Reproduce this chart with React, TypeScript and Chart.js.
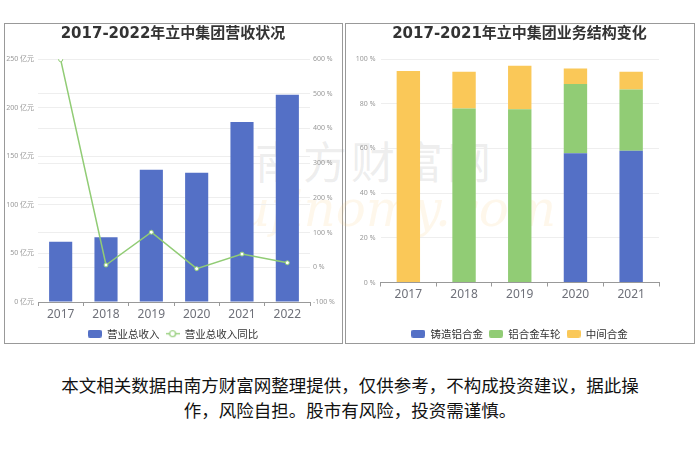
import React, { useEffect, useRef } from "react";
import { Chart, registerables } from "chart.js";

Chart.register(...registerables);

// ---------- data ----------
const revenueYears = ["2017", "2018", "2019", "2020", "2021", "2022"];
const totalRevenue = [62, 66.6, 136, 133, 185.2, 213.2]; // 亿元
const revenueGrowth = [598, 6.6, 101, -4, 38, 13]; // %

const structureYears = ["2017", "2018", "2019", "2020", "2021"];
const castingAlloy = [0, 0, 0, 57.8, 59.0]; // %
const alloyWheels = [0, 77.9, 77.5, 31.0, 27.4]; // %
const masterAlloy = [94.6, 16.4, 19.5, 7.0, 7.9]; // %

const leftTitle = "2017-2022年立中集团营收状况";
const rightTitle = "2017-2021年立中集团业务结构变化";
const revenueLabel = "营业总收入";
const growthLabel = "营业总收入同比";
const structureLabels = ["铸造铝合金", "铝合金车轮", "中间合金"];
const disclaimerLine1 = "本文相关数据由南方财富网整理提供，仅供参考，不构成投资建议，据此操";
const disclaimerLine2 = "作，风险自担。股市有风险，投资需谨慎。";

const BLUE = "#5470c6";
const GREEN = "#91cc75";
const YELLOW = "#fac858";

const TICK_FONT = "'Noto Sans', 'Noto Sans CJK SC', sans-serif";
const TITLE_FONT = "'DejaVu Sans', 'Noto Sans CJK SC', sans-serif";
const CJK_FONT = "'Noto Sans CJK SC', 'Noto Sans', sans-serif";

function boxIcon(color: string) {
  const c = document.createElement("canvas");
  c.width = 14;
  c.height = 8;
  const ctx = c.getContext("2d")!;
  ctx.fillStyle = color;
  ctx.beginPath();
  (ctx as any).roundRect(0, 0, 14, 8, 2);
  ctx.fill();
  return c;
}

function lineIcon(color: string) {
  const c = document.createElement("canvas");
  c.width = 14;
  c.height = 9;
  const ctx = c.getContext("2d")!;
  ctx.strokeStyle = color;
  ctx.lineWidth = 1.3;
  ctx.beginPath();
  ctx.moveTo(0, 4.5);
  ctx.lineTo(14, 4.5);
  ctx.stroke();
  ctx.beginPath();
  ctx.arc(7, 4.5, 3, 0, Math.PI * 2);
  ctx.fillStyle = "#fff";
  ctx.fill();
  ctx.lineWidth = 1.2;
  ctx.stroke();
  return c;
}

function legendOptions(icons: HTMLCanvasElement[]) {
  return {
    display: true,
    position: "bottom" as const,
    labels: {
      usePointStyle: true,
      pointStyleWidth: 14,
      padding: 6,
      color: "#333",
      font: { size: 10.5, family: CJK_FONT },
      sort: (a: any, b: any) => a.datasetIndex - b.datasetIndex,
      generateLabels: (chart: any) => {
        const items = (Chart.defaults.plugins.legend.labels as any).generateLabels(chart);
        items.forEach((it: any) => {
          it.pointStyle = icons[it.datasetIndex];
        });
        return items;
      },
    },
  };
}

function titleOptions(text: string) {
  return {
    display: true,
    text,
    color: "#333",
    font: { size: 15, weight: "bold" as const, family: TITLE_FONT },
    padding: { top: 1, bottom: 16 },
  };
}

function xScale(height: number, stacked: boolean) {
  return {
    stacked,
    grid: {
      display: true,
      drawOnChartArea: false,
      drawTicks: true,
      tickLength: 4,
      color: "#999",
      offset: true,
    },
    border: { display: true, color: "#999" },
    ticks: { color: "#6e7079", font: { size: 12, family: TICK_FONT }, padding: 1 },
    afterFit: (s: any) => {
      s.height = height;
    },
  };
}

function RevenueChart() {
  const ref = useRef<HTMLCanvasElement>(null);
  useEffect(() => {
    const chart = new Chart(ref.current!, {
      type: "bar",
      data: {
        labels: revenueYears,
        datasets: [
          {
            type: "bar",
            label: revenueLabel,
            data: totalRevenue,
            backgroundColor: BLUE,
            yAxisID: "y",
            barPercentage: 0.51,
            categoryPercentage: 1,
            order: 2,
          } as any,
          {
            type: "line",
            label: growthLabel,
            data: revenueGrowth,
            borderColor: GREEN,
            borderWidth: 1.5,
            pointRadius: 2,
            pointBackgroundColor: "#fff",
            pointBorderColor: GREEN,
            pointBorderWidth: 1,
            yAxisID: "y1",
            tension: 0,
            order: 1,
          } as any,
        ],
      },
      options: {
        responsive: false,
        animation: false,
        devicePixelRatio: 1,
        layout: { padding: 0 },
        plugins: {
          title: titleOptions(leftTitle),
          legend: legendOptions([boxIcon(BLUE), lineIcon(GREEN)]) as any,
          tooltip: { enabled: false },
        },
        scales: {
          x: xScale(20.5, false) as any,
          y: {
            position: "left",
            min: 0,
            max: 250,
            ticks: {
              stepSize: 50,
              color: "#999",
              font: { size: 7, family: TICK_FONT },
              padding: 4,
              callback: (v: any) => v + " 亿元",
            },
            grid: { color: "#eeeeee", drawTicks: false },
            border: { display: false },
            afterFit: (s: any) => {
              s.width = 33;
            },
          } as any,
          y1: {
            position: "right",
            min: -100,
            max: 600,
            ticks: {
              stepSize: 100,
              color: "#999",
              font: { size: 7, family: TICK_FONT },
              padding: 3,
              callback: (v: any) => v + " %",
            },
            grid: { color: "#eeeeee", drawTicks: false },
            border: { display: false },
            afterFit: (s: any) => {
              s.width = 31;
            },
          } as any,
        },
      },
    });
    return () => chart.destroy();
  }, []);
  return (
    <canvas
      ref={ref}
      width={336}
      height={325}
      style={{ position: "absolute", left: 5, top: 24, width: 336, height: 325 }}
    />
  );
}

function StructureChart() {
  const ref = useRef<HTMLCanvasElement>(null);
  useEffect(() => {
    const chart = new Chart(ref.current!, {
      type: "bar",
      data: {
        labels: structureYears,
        datasets: [
          { label: structureLabels[0], data: castingAlloy, backgroundColor: BLUE },
          { label: structureLabels[1], data: alloyWheels, backgroundColor: GREEN },
          { label: structureLabels[2], data: masterAlloy, backgroundColor: YELLOW },
        ].map((d) => ({ ...d, barPercentage: 0.42, categoryPercentage: 1 })) as any,
      },
      options: {
        responsive: false,
        animation: false,
        devicePixelRatio: 1,
        layout: { padding: 0 },
        plugins: {
          title: titleOptions(rightTitle),
          legend: legendOptions([boxIcon(BLUE), boxIcon(GREEN), boxIcon(YELLOW)]) as any,
          tooltip: { enabled: false },
        },
        scales: {
          x: xScale(40, true) as any,
          y: {
            stacked: true,
            position: "left",
            min: 0,
            max: 100,
            ticks: {
              stepSize: 20,
              color: "#999",
              font: { size: 7, family: TICK_FONT },
              padding: 5,
              callback: (v: any) => v + " %",
            },
            grid: { color: "#eeeeee", drawTicks: false },
            border: { display: false },
            afterFit: (s: any) => {
              s.width = 34.5;
            },
          } as any,
          yRightSpace: {
            position: "right",
            display: true,
            ticks: { display: false },
            grid: { display: false, drawTicks: false },
            border: { display: false },
            afterFit: (s: any) => {
              s.width = 34;
            },
          } as any,
        },
      },
    });
    return () => chart.destroy();
  }, []);
  return (
    <canvas
      ref={ref}
      width={347}
      height={325}
      style={{ position: "absolute", left: 346, top: 24, width: 347, height: 325 }}
    />
  );
}

export default function App() {
  return (
    <div
      style={{
        position: "absolute",
        left: 0,
        top: 0,
        width: 700,
        height: 467,
        background: "#fff",
        overflow: "hidden",
      }}
    >
      <div
        style={{
          position: "absolute",
          left: 4,
          top: 23,
          width: 339,
          height: 321,
          border: "1px solid #999",
          boxSizing: "border-box",
        }}
      />
      <div
        style={{
          position: "absolute",
          left: 345,
          top: 23,
          width: 350,
          height: 321,
          border: "1px solid #999",
          boxSizing: "border-box",
        }}
      />
      {/* watermark */}
      <div
        style={{
          position: "absolute",
          left: 255,
          top: 128,
          fontFamily: CJK_FONT,
          fontSize: 44,
          letterSpacing: 4,
          color: "rgba(150,150,150,0.17)",
          whiteSpace: "nowrap",
        }}
      >
        南方财富网
      </div>
      <div
        style={{
          position: "absolute",
          left: 238,
          top: 180,
          fontFamily: "'DejaVu Serif', serif",
          fontStyle: "italic",
          fontSize: 50,
          color: "rgba(250,200,120,0.15)",
          whiteSpace: "nowrap",
        }}
      >
        ufinomy.com
      </div>
      <RevenueChart />
      <StructureChart />
      <div
        style={{
          position: "absolute",
          left: 0,
          top: 372,
          width: 700,
          textAlign: "center",
          fontFamily: CJK_FONT,
          fontSize: 17.5,
          lineHeight: "25px",
          color: "#111",
        }}
      >
        {disclaimerLine1}
        <br />
        {disclaimerLine2}
      </div>
    </div>
  );
}
